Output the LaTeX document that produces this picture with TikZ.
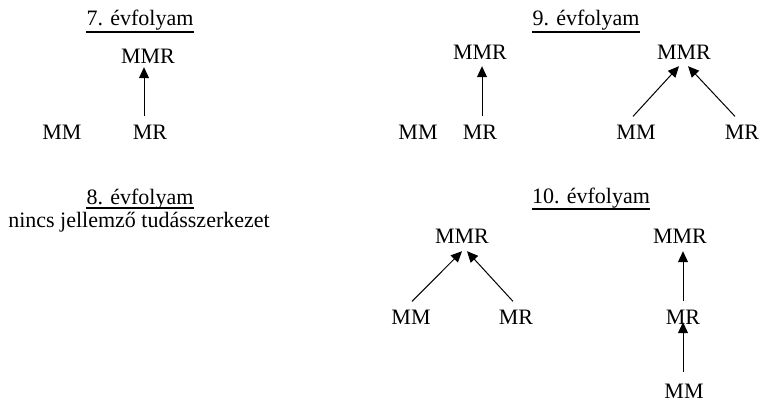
\documentclass[tikz,border=0pt]{standalone}
\usepackage{fontspec}
\setmainfont{Liberation Serif}
\usetikzlibrary{arrows.meta}

\tikzset{
  lbl/.style={inner sep=0pt, anchor=base, font=\fontsize{22}{26}\selectfont},
  ttl/.style={inner sep=0pt, anchor=base, font=\fontsize{22}{26}\selectfont},
  uline/.style={line width=1.4pt},
  arr/.style={line width=1pt, -{Triangle[length=11pt,width=10pt]}}
}

\begin{document}
\begin{tikzpicture}[x=1pt, y=-1pt]
\useasboundingbox (0,0) rectangle (759,402);

% ---- 7th grade ----
\node[ttl] (t7) at (140,25) {7. évfolyam};
\draw[uline] ([yshift=-7pt]t7.base west) -- ([yshift=-7pt]t7.base east);
\node[lbl] (mmr7) at (148,63) {MMR};
\node[lbl] (mm7) at (62,139) {MM};
\node[lbl] (mr7) at (150,139) {MR};
\draw[arr] ([shift={(-6,-8)}]mr7.north) -- ([shift={(-4,4)}]mmr7.south);

% ---- 9th grade ----
\node[ttl] (t9) at (586,25) {9. évfolyam};
\draw[uline] ([yshift=-7pt]t9.base west) -- ([yshift=-7pt]t9.base east);
\node[lbl] (mmr9a) at (480,59) {MMR};
\node[lbl] (mm9a) at (418,139) {MM};
\node[lbl] (mr9a) at (480,139) {MR};
\draw[arr] ([shift={(2,-8)}]mr9a.north) -- ([shift={(2,7)}]mmr9a.south);

\node[lbl] (mmr9b) at (684,59) {MMR};
\node[lbl] (mm9b) at (636,139) {MM};
\node[lbl] (mr9b) at (742,139) {MR};
\draw[arr] ([shift={(-3,-8)}]mm9b.north) -- ([shift={(-5,7)}]mmr9b.south);
\draw[arr] ([shift={(-7,-8)}]mr9b.north) -- ([shift={(4,7)}]mmr9b.south);

% ---- 8th grade ----
\node[ttl] (t8) at (140,204) {8. évfolyam};
\draw[uline] ([yshift=-4pt]t8.base west) -- ([yshift=-4pt]t8.base east);
\node[ttl] (none8) at (139,227) {nincs jellemző tudásszerkezet};

% ---- 10th grade ----
\node[ttl] (t10) at (591,203) {10. évfolyam};
\draw[uline] ([yshift=-6pt]t10.base west) -- ([yshift=-6pt]t10.base east);
\node[lbl] (mmr10a) at (462,243) {MMR};
\node[lbl] (mm10a) at (411,324) {MM};
\node[lbl] (mr10a) at (516,324) {MR};
\draw[arr] ([shift={(1,-8)}]mm10a.north) -- ([shift={(0,8)}]mmr10a.south);
\draw[arr] ([shift={(-3,-8)}]mr10a.north) -- ([shift={(5,8)}]mmr10a.south);

\node[lbl] (mmr10b) at (680,243) {MMR};
\node[lbl] (mr10b) at (683,324) {MR};
\node[lbl] (mm10b) at (684,398) {MM};
\draw[arr] ([shift={(0,-8)}]mr10b.north) -- ([shift={(3,8)}]mmr10b.south);
\draw[arr] ([shift={(-1,-11)}]mm10b.north) -- ([shift={(0,-2)}]mr10b.south);
\end{tikzpicture}
\end{document}
